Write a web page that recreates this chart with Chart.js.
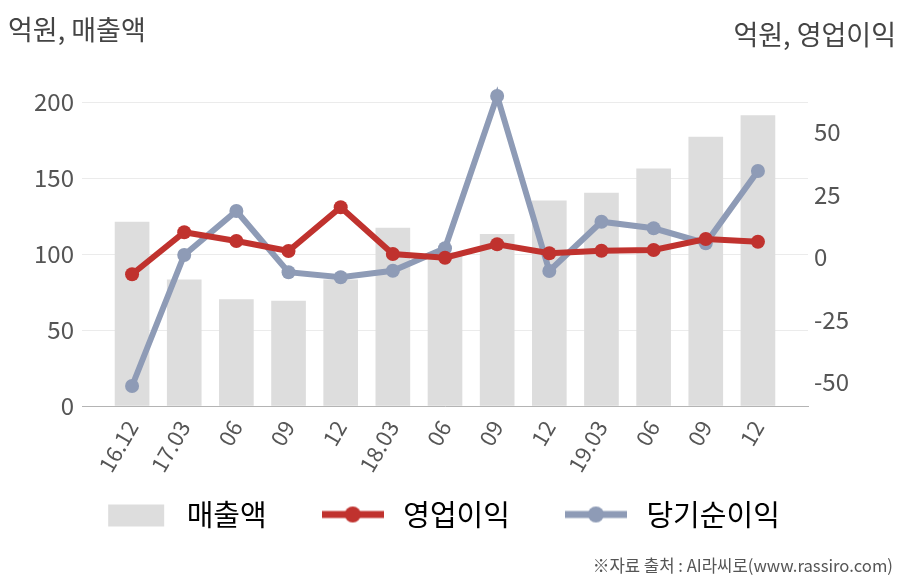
<!DOCTYPE html>
<html>
<head>
<meta charset="utf-8">
<script src="https://cdn.jsdelivr.net/npm/chart.js@4"></script>
<style>
  html, body { margin: 0; padding: 0; background: #fff; }
  #wrap { width: 908px; height: 580px; }
</style>
</head>
<body>
<div id="wrap"><canvas id="myChart" width="908" height="580"></canvas></div>
<script>
// 데이터 (억원)
const labels = ['16.12', '17.03', '06', '09', '12', '18.03', '06', '09', '12', '19.03', '06', '09', '12'];
const sales = [121, 83, 70, 69, 83, 117, 101, 113, 135, 140, 156, 177, 191];
const opProfit = [-6.9, 9.9, 6.4, 2.4, 19.9, 1.2, -0.3, 5.1, 1.5, 2.5, 2.8, 7.2, 6.1];
const netIncome = [-51.6, 0.8, 18.4, -6.1, -8.1, -5.5, 3.5, 64.4, -5.6, 14.1, 11.5, 5.5, 34.4];
const leftTicks = [0, 50, 100, 150, 200];
const rightTicks = [-50, -25, 0, 25, 50];
const seriesNames = ['매출액', '영업이익', '당기순이익'];

const FONT = "'Noto Sans CJK KR', 'Noto Sans', sans-serif";
const BAR_COLOR = '#dddddd';
const RED = '#c0322e';
const BLUE = '#8e9bb6';

// 범례 아이콘 (막대 / 선+점)
function legendIcon(kind, color) {
    const c = document.createElement('canvas');
    c.width = 62;
    c.height = 28;
    const g = c.getContext('2d');
    if (kind === 'bar') {
        g.fillStyle = color;
        g.fillRect(3, 4, 56, 22);
    } else {
        g.strokeStyle = color;
        g.lineWidth = 7;
        g.beginPath();
        g.moveTo(0, 14);
        g.lineTo(62, 14);
        g.stroke();
        g.fillStyle = color;
        g.beginPath();
        g.arc(31, 14, 8, 0, Math.PI * 2);
        g.fill();
    }
    return c;
}

// 축 제목, 출처 텍스트
const textPlugin = {
    id: 'texts',
    afterDraw(chart) {
        const ctx = chart.ctx;
        ctx.save();
        ctx.fillStyle = '#444';
        ctx.font = '27px ' + FONT;
        ctx.textBaseline = 'middle';
        ctx.textAlign = 'left';
        ctx.fillText('억원, 매출액', 8, 30);
        ctx.textAlign = 'right';
        ctx.fillText('억원, 영업이익', 896, 35);
        ctx.font = '16.7px ' + FONT;
        ctx.fillStyle = '#555';
        ctx.fillText('※자료 출처 : AI라씨로(www.rassiro.com)', 893, 566);
        ctx.restore();
    }
};

// 범례 위치 보정 (x축 라벨 영역과 겹치게 위로)
const legendShift = {
    id: 'legendShift',
    afterLayout(chart) {
        const lg = chart.legend;
        lg.left -= 14;
        lg.right -= 14;
        lg.top -= 26;
        lg.bottom -= 26;
    }
};

const ctx = document.getElementById('myChart').getContext('2d');
const myChart = new Chart(ctx, {
    type: 'bar',
    data: {
        datasets: [{
            type: 'bar',
            label: seriesNames[0],
            data: labels.map((l, i) => ({ x: i, y: sales[i] })),
            backgroundColor: BAR_COLOR,
            barThickness: 34,
            yAxisID: 'y',
            order: 3
        }, {
            type: 'line',
            label: seriesNames[1],
            data: labels.map((l, i) => ({ x: i, y: opProfit[i] })),
            borderColor: RED,
            backgroundColor: RED,
            borderWidth: 6,
            pointRadius: 7,
            pointBorderWidth: 0,
            tension: 0,
            clip: false,
            yAxisID: 'y1',
            order: 1
        }, {
            type: 'line',
            label: seriesNames[2],
            data: labels.map((l, i) => ({ x: i, y: netIncome[i] })),
            borderColor: BLUE,
            backgroundColor: BLUE,
            borderWidth: 6,
            pointRadius: 7,
            pointBorderWidth: 0,
            tension: 0,
            clip: false,
            yAxisID: 'y1',
            order: 2
        }]
    },
    options: {
        responsive: false,
        animation: false,
        devicePixelRatio: 1,
        layout: {
            padding: { top: 102, bottom: 15, left: 0, right: 0 }
        },
        scales: {
            x: {
                type: 'linear',
                offset: false,
                min: -0.96,
                max: 12.96,
                afterBuildTicks: (scale) => {
                    scale.ticks = labels.map((l, i) => ({ value: i }));
                },
                afterFit: (scale) => { scale.height = 70; },
                grid: { display: true, drawOnChartArea: false, drawTicks: false },
                border: { display: true, color: '#b4b4b4', width: 1 },
                ticks: {
                    autoSkip: false,
                    minRotation: 60,
                    maxRotation: 60,
                    padding: 10,
                    color: '#555',
                    font: { size: 22, family: FONT },
                    callback: (v) => labels[v]
                }
            },
            y: {
                position: 'left',
                min: 0,
                max: 200,
                afterBuildTicks: (scale) => {
                    scale.ticks = leftTicks.map(v => ({ value: v }));
                },
                afterFit: (scale) => { scale.width = 82; },
                grid: { color: '#ebebeb', drawTicks: false },
                border: { display: false },
                ticks: {
                    padding: 8,
                    color: '#555',
                    font: { size: 24, family: FONT }
                }
            },
            y1: {
                position: 'right',
                min: -59.6,
                max: 62,
                afterBuildTicks: (scale) => {
                    scale.ticks = rightTicks.map(v => ({ value: v }));
                },
                afterFit: (scale) => { scale.width = 100; },
                grid: { display: false, drawTicks: false },
                border: { display: false },
                ticks: {
                    padding: 6,
                    color: '#555',
                    font: { size: 24, family: FONT }
                }
            }
        },
        plugins: {
            tooltip: { enabled: false },
            legend: {
                position: 'bottom',
                labels: {
                    usePointStyle: true,
                    pointStyleWidth: 72,
                    boxHeight: 29,
                    padding: 50,
                    color: '#444',
                    font: { size: 29, family: FONT },
                    generateLabels: (chart) => [
                        { text: seriesNames[0], pointStyle: legendIcon('bar', BAR_COLOR), fillStyle: BAR_COLOR, strokeStyle: BAR_COLOR, lineWidth: 0, hidden: false, datasetIndex: 0 },
                        { text: seriesNames[1], pointStyle: legendIcon('line', RED), fillStyle: RED, strokeStyle: RED, lineWidth: 0, hidden: false, datasetIndex: 1 },
                        { text: seriesNames[2], pointStyle: legendIcon('line', BLUE), fillStyle: BLUE, strokeStyle: BLUE, lineWidth: 0, hidden: false, datasetIndex: 2 }
                    ]
                }
            }
        }
    },
    plugins: [textPlugin, legendShift]
});
</script>
</body>
</html>
